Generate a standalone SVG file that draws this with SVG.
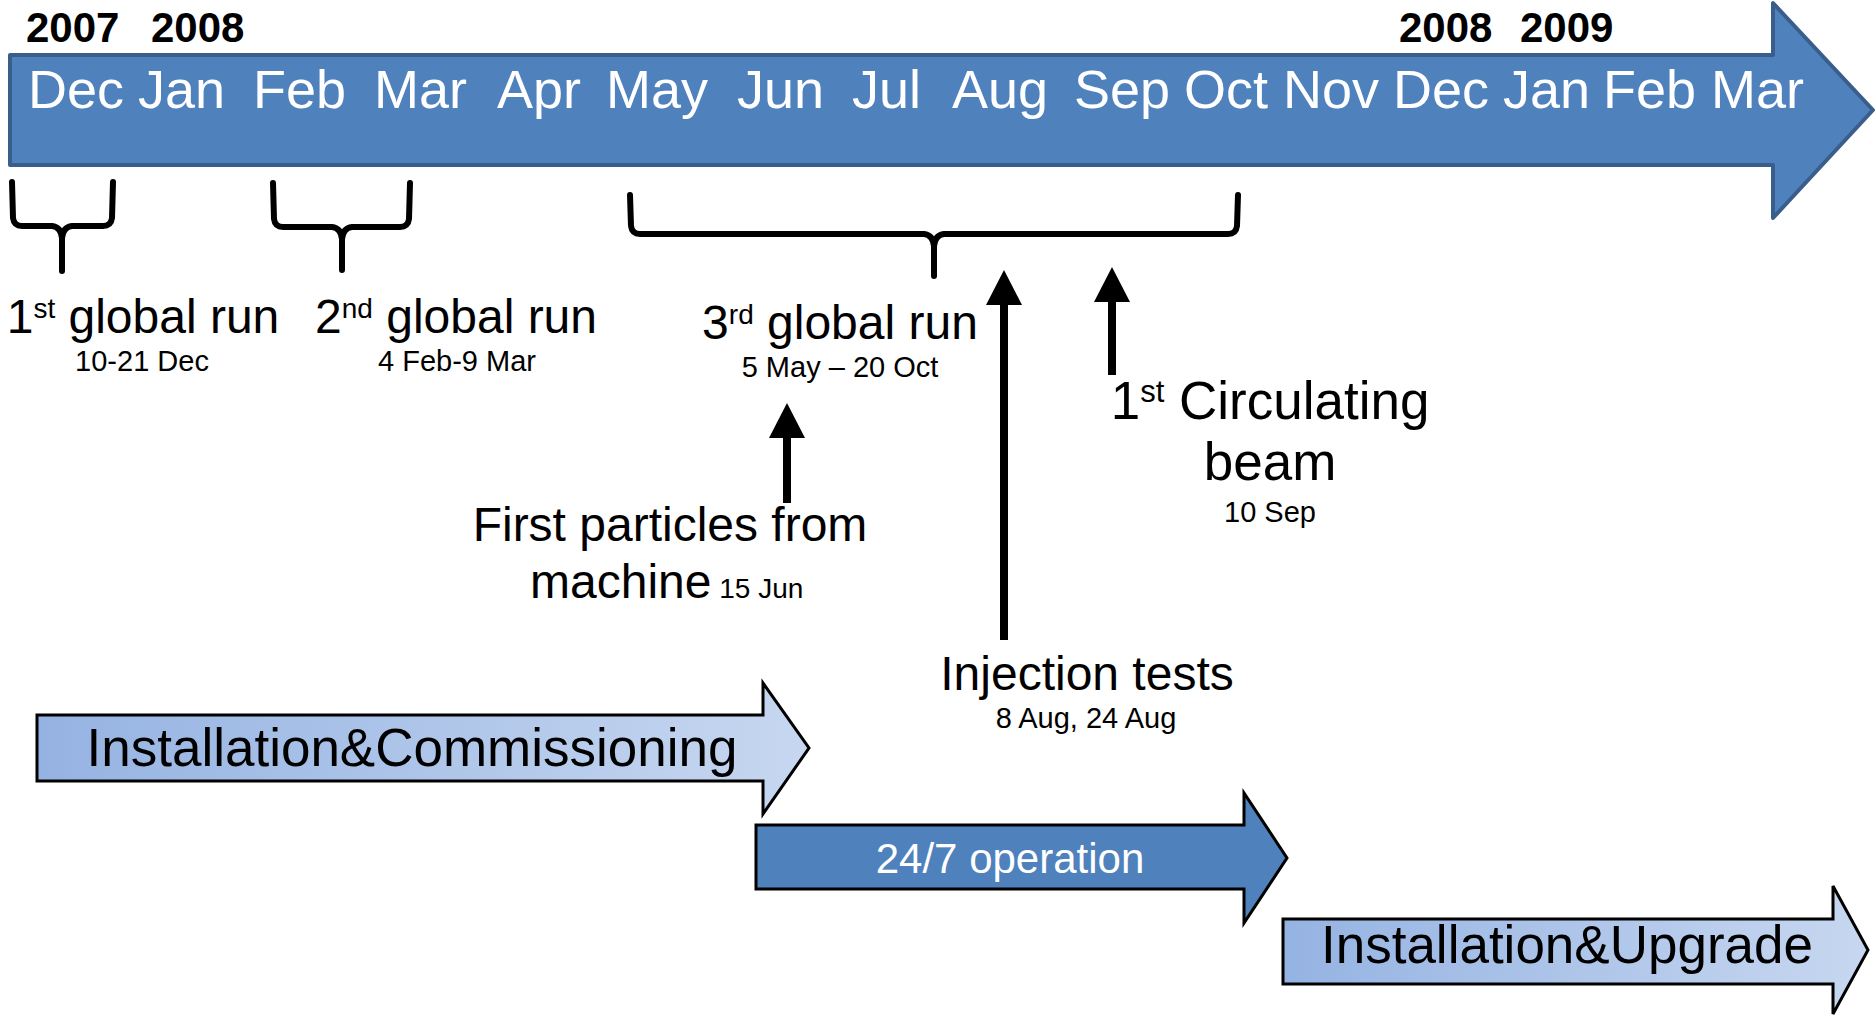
<svg xmlns="http://www.w3.org/2000/svg" width="1876" height="1015" viewBox="0 0 1876 1015">
  <defs>
    <linearGradient id="lightFill" x1="0" y1="0" x2="1" y2="0">
      <stop offset="0" stop-color="#95B3E2"/>
      <stop offset="1" stop-color="#C7D7F0"/>
    </linearGradient>
    <marker id="head" viewBox="0 -18 35 36" refX="0" refY="0" markerUnits="userSpaceOnUse" markerWidth="35" markerHeight="36" orient="auto">
      <path d="M0,-18 L35,0 L0,18 Z" fill="#000"/>
    </marker>
  </defs>
  <style>
    text { font-family: "Liberation Sans", Arial, sans-serif; }
    .year { font-size: 42px; font-weight: bold; fill: #000; }
    .month { font-size: 54px; fill: #fff; }
    .big { font-size: 48px; fill: #000; text-anchor: middle; }
    .small { font-size: 29px; fill: #000; text-anchor: middle; }
    .sup { font-size: 28px; }
    .brace { fill: none; stroke: #000; stroke-width: 6; stroke-linecap: round; stroke-linejoin: round; }
    .pointer { stroke: #000; stroke-width: 8; fill: none; marker-end: url(#head); }
    .phase { stroke: #000; stroke-width: 3; stroke-linejoin: miter; }
    .phaseText { font-size: 53px; fill: #000; text-anchor: middle; }
  </style>

  <!-- timeline arrow -->
  <g id="timeline">
    <path d="M10,55 L1773,55 L1773,3 L1873,110 L1773,218 L1773,165 L10,165 Z" fill="#4F81BD" stroke="#3A5E8B" stroke-width="4" stroke-linejoin="round"/>
    <text class="year" x="26" y="42">2007</text>
    <text class="year" x="151" y="42">2008</text>
    <text class="year" x="1399" y="42">2008</text>
    <text class="year" x="1520" y="42">2009</text>
    <text class="month" x="28" y="108">Dec</text>
    <text class="month" x="138" y="108">Jan</text>
    <text class="month" x="253" y="108">Feb</text>
    <text class="month" x="374" y="108">Mar</text>
    <text class="month" x="497" y="108">Apr</text>
    <text class="month" x="606" y="108">May</text>
    <text class="month" x="737" y="108">Jun</text>
    <text class="month" x="852" y="108">Jul</text>
    <text class="month" x="952" y="108">Aug</text>
    <text class="month" x="1074" y="108">Sep</text>
    <text class="month" x="1184" y="108">Oct</text>
    <text class="month" x="1283" y="108">Nov</text>
    <text class="month" x="1393" y="108">Dec</text>
    <text class="month" x="1503" y="108">Jan</text>
    <text class="month" x="1603" y="108">Feb</text>
    <text class="month" x="1711" y="108">Mar</text>
  </g>

  <!-- global run braces and labels -->
  <g id="run1">
    <path class="brace" d="M12,182 L13,218 Q14,226 22,226 L52,226 Q61,227 62,238 L62,271 M113,182 L112,218 Q111,226 103,226 L72,226 Q63,227 62,238"/>
    <text class="big" x="143" y="333">1<tspan class="sup" dy="-15">st</tspan><tspan dy="15"> global run</tspan></text>
    <text class="small" x="142" y="371">10-21 Dec</text>
  </g>
  <g id="run2">
    <path class="brace" d="M273,183 L274,219 Q275,227 283,227 L332,227 Q341,228 342,239 L342,270 M410,183 L409,219 Q408,227 400,227 L352,227 Q343,228 342,239"/>
    <text class="big" x="456" y="333">2<tspan class="sup" dy="-15">nd</tspan><tspan dy="15"> global run</tspan></text>
    <text class="small" x="457" y="371">4 Feb-9 Mar</text>
  </g>
  <g id="run3">
    <path class="brace" d="M630,195 L631,226 Q632,234 640,234 L924,234 Q933,235 934,246 L934,276 M1238,195 L1237,226 Q1236,234 1228,234 L944,234 Q935,235 934,246"/>
    <text class="big" x="840" y="339">3<tspan class="sup" dy="-15">rd</tspan><tspan dy="15"> global run</tspan></text>
    <text class="small" x="840" y="377">5 May – 20 Oct</text>
  </g>

  <!-- event labels -->
  <g id="first-particles">
    <text class="big" x="670" y="541">First particles from</text>
    <text x="530" y="598" style="font-size:48px"><tspan>machine</tspan><tspan style="font-size:28px"> 15 Jun</tspan></text>
  </g>
  <g id="injection-tests">
    <text class="big" x="1087" y="690">Injection tests</text>
    <text class="small" x="1086" y="728">8 Aug, 24 Aug</text>
  </g>
  <g id="circulating-beam">
    <text class="big" x="1270" y="419" style="font-size:53px">1<tspan style="font-size:31px" dy="-17">st</tspan><tspan dy="17"> Circulating</tspan></text>
    <text class="big" x="1270" y="480" style="font-size:53px">beam</text>
    <text class="small" x="1270" y="522">10 Sep</text>
  </g>

  <!-- pointers -->
  <g id="connectors">
    <line class="pointer" x1="787" y1="503" x2="787" y2="438"/>
    <line class="pointer" x1="1004" y1="640" x2="1004" y2="305"/>
    <line class="pointer" x1="1112" y1="375" x2="1112" y2="302"/>
  </g>

  <!-- phase arrows -->
  <g id="installation-commissioning">
    <path class="phase" d="M37,715 L763,715 L763,683 L809,748 L763,814 L763,781 L37,781 Z" fill="url(#lightFill)"/>
    <text class="phaseText" x="412" y="766">Installation&amp;Commissioning</text>
  </g>
  <g id="operation">
    <path class="phase" d="M756,825 L1244,825 L1244,793 L1287,858 L1244,923 L1244,889 L756,889 Z" fill="#4F81BD"/>
    <text x="1010" y="873" style="font-size:42px;fill:#fff;text-anchor:middle">24/7 operation</text>
  </g>
  <g id="installation-upgrade">
    <path class="phase" d="M1283,919 L1833,919 L1833,886 L1868,950 L1833,1014 L1833,984 L1283,984 Z" fill="url(#lightFill)"/>
    <text class="phaseText" x="1567" y="963">Installation&amp;Upgrade</text>
  </g>
</svg>
